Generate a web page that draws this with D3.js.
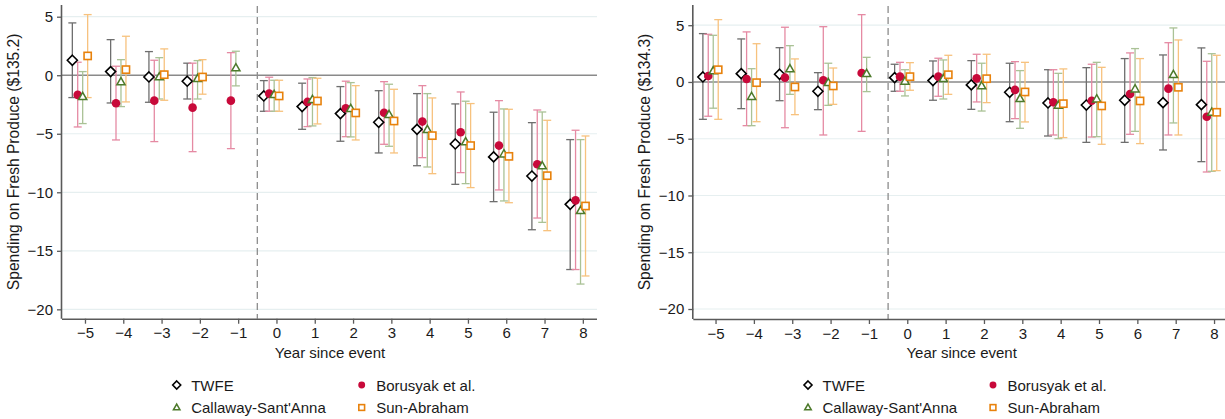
<!DOCTYPE html>
<html>
<head>
<meta charset="utf-8">
<script src="https://cdn.jsdelivr.net/npm/d3@7"></script>
<style>
  html, body { margin: 0; padding: 0; background: #fff; }
  svg text { font-family: "Liberation Sans", Arial, sans-serif; fill: #1a1a1a; }
</style>
</head>
<body>
<svg id="chart" width="1225" height="419"></svg>
<script>
// Event time (years relative to the event)
const events = [-5, -4, -3, -2, -1, 0, 1, 2, 3, 4, 5, 6, 7, 8];
const xTicks = [-5, -4, -3, -2, -1, 0, 1, 2, 3, 4, 5, 6, 7, 8];
const yTicks = [5, 0, -5, -10, -15, -20];

const seriesNames = ["TWFE", "Borusyak et al.", "Callaway-Sant'Anna", "Sun-Abraham"];

// Left panel: baseline mean $135.2
const twfeA_est = [1.28, 0.31, -0.15, -0.51, null, -1.77, -2.68, -3.28, -4.02, -4.62, -5.87, -6.98, -8.61, -11.03];
const twfeA_lo  = [-1.91, -2.37, -2.31, -2.03, null, -3.08, -4.62, -5.64, -6.64, -7.73, -9.32, -10.8, -13.2, -16.6];
const twfeA_hi  = [4.47, 3.04, 2.02, 1.03, null, -0.46, -0.68, -0.97, -1.32, -1.57, -2.45, -3.16, -4.05, -5.5];
const borA_est  = [-1.68, -2.40, -2.17, -2.77, -2.17, -1.57, -2.28, -2.82, -3.20, -3.96, -4.87, -6.01, -7.61, -10.69];
const borA_lo   = [-4.42, -5.53, -5.67, -6.53, -6.27, -3.08, -4.39, -5.25, -5.90, -7.04, -8.32, -9.80, -12.2, -16.6];
const borA_hi   = [1.11, 0.77, 1.28, 1.03, 1.93, -0.17, -0.32, -0.51, -0.55, -0.89, -1.43, -2.17, -2.97, -4.70];
const csA_est   = [-1.83, -0.57, -0.15, -0.29, 0.62, -1.66, -2.08, -2.85, -3.37, -4.65, -5.70, -6.73, -7.75, -11.57];
const csA_lo    = [-4.13, -2.68, -2.03, -2.03, -0.91, -3.08, -4.33, -5.27, -6.07, -7.84, -9.26, -10.74, -12.57, -17.84];
const csA_hi    = [0.31, 1.33, 1.50, 1.25, 2.05, -0.43, -0.20, -0.63, -0.77, -1.57, -2.22, -2.88, -3.14, -5.50];
const saA_est   = [1.65, 0.48, 0.05, -0.15, null, -1.77, -2.20, -3.22, -3.91, -5.16, -6.01, -6.93, -8.58, -11.17];
const saA_lo    = [-1.91, -2.28, -2.14, -1.62, null, -3.08, -4.16, -5.53, -6.64, -8.41, -9.60, -10.89, -13.28, -17.15];
const saA_hi    = [5.18, 3.33, 2.25, 1.33, null, -0.43, -0.26, -0.89, -1.20, -1.94, -2.42, -2.91, -3.85, -5.19];

// Right panel: baseline mean $134.3
const twfeB_est = [0.44, 0.73, 0.68, -0.82, null, 0.38, 0.12, -0.26, -0.91, -1.85, -2.03, -1.61, -1.82, -2.00];
const twfeB_lo  = [-3.29, -2.35, -1.65, -2.44, null, -0.82, -1.61, -2.41, -3.50, -4.76, -5.32, -5.32, -5.99, -7.02];
const twfeB_hi  = [4.26, 3.79, 3.02, 0.82, null, 1.56, 1.85, 1.88, 1.65, 1.08, 1.26, 2.06, 2.38, 3.00];
const borB_est  = [0.53, 0.26, 0.38, 0.15, 0.79, 0.47, 0.47, 0.32, -0.70, -1.79, -1.65, -1.06, -0.59, -3.06];
const borB_lo   = [-3.02, -3.85, -4.03, -4.67, -4.35, -0.82, -1.26, -1.76, -3.23, -4.67, -4.85, -4.61, -4.67, -7.93];
const borB_hi   = [4.20, 4.41, 4.82, 4.87, 5.93, 1.73, 2.09, 2.44, 1.79, 1.08, 1.56, 2.56, 3.46, 1.82];
const csB_est   = [0.97, -1.29, 1.15, -0.06, 0.73, 0.06, 0.29, -0.35, -1.47, -2.06, -1.50, -0.62, 0.64, -2.67];
const csB_lo    = [-2.31, -3.85, -1.09, -2.06, -0.85, -1.23, -1.50, -2.56, -4.08, -4.99, -4.82, -4.35, -3.61, -7.87];
const csB_hi    = [4.11, 1.17, 3.20, 1.65, 2.17, 1.08, 1.94, 1.65, 1.00, 0.76, 1.73, 2.94, 4.76, 2.49];
const saB_est   = [1.08, -0.06, -0.44, -0.35, null, 0.47, 0.64, 0.29, -0.88, -1.91, -2.11, -1.67, -0.47, -2.67];
const saB_lo    = [-3.29, -3.50, -2.88, -1.97, null, -0.73, -1.09, -1.82, -3.52, -4.90, -5.49, -5.43, -4.67, -7.81];
const saB_hi    = [5.49, 3.37, 2.03, 1.23, null, 1.70, 2.35, 2.44, 1.73, 1.15, 1.29, 2.06, 3.70, 2.35];

// Visual styling per estimator
const styles = [
  { marker: "diamond",  ci: "#6e6e6e", stroke: "#000000", fill: "#ffffff", offset: -0.33 },
  { marker: "circle",   ci: "#e58aa3", stroke: "#c8093a", fill: "#c8093a", offset: -0.19 },
  { marker: "triangle", ci: "#aac296", stroke: "#4d7a2b", fill: "#ffffff", offset: -0.06 },
  { marker: "square",   ci: "#f7c27e", stroke: "#e8820c", fill: "#ffffff", offset: 0.07 }
];

const panels = [
  {
    ylabel: "Spending on Fresh Produce ($135.2)",
    left: 62, right: 597, top: 5, bottom: 318.7, yDomain: [-20.8, 6.0], xDomain: [-5.6, 8.37],
    series: [
      { est: twfeA_est, lo: twfeA_lo, hi: twfeA_hi },
      { est: borA_est,  lo: borA_lo,  hi: borA_hi },
      { est: csA_est,   lo: csA_lo,   hi: csA_hi },
      { est: saA_est,   lo: saA_lo,   hi: saA_hi }
    ]
  },
  {
    ylabel: "Spending on Fresh Produce ($134.3)",
    left: 693.3, right: 1229, top: 5, bottom: 319, yDomain: [-20.88, 6.78], xDomain: [-5.58, 8.39],
    series: [
      { est: twfeB_est, lo: twfeB_lo, hi: twfeB_hi },
      { est: borB_est,  lo: borB_lo,  hi: borB_hi },
      { est: csB_est,   lo: csB_lo,   hi: csB_hi },
      { est: saB_est,   lo: saB_lo,   hi: saB_hi }
    ]
  }
];

const svg = d3.select("#chart");
svg.append("rect").attr("width", 1225).attr("height", 419).attr("fill", "#ffffff");

function drawMarker(g, kind, cx, cy, scale, st) {
  const s = scale;
  if (kind === "diamond") {
    g.append("path")
      .attr("d", `M${cx},${cy - 5 * s}L${cx + 5 * s},${cy}L${cx},${cy + 5 * s}L${cx - 5 * s},${cy}Z`)
      .attr("fill", st.fill).attr("stroke", st.stroke).attr("stroke-width", 1.6);
  } else if (kind === "circle") {
    g.append("circle").attr("cx", cx).attr("cy", cy).attr("r", 4.3 * s)
      .attr("fill", st.fill).attr("stroke", "none");
  } else if (kind === "triangle") {
    const h = 7.2 * s, w = 8.2 * s;
    g.append("path")
      .attr("d", `M${cx},${cy - h * 0.6}L${cx + w / 2},${cy + h * 0.4}L${cx - w / 2},${cy + h * 0.4}Z`)
      .attr("fill", st.fill).attr("stroke", st.stroke).attr("stroke-width", 1.5);
  } else if (kind === "square") {
    const a = 7.2 * s;
    g.append("rect").attr("x", cx - a / 2).attr("y", cy - a / 2).attr("width", a).attr("height", a)
      .attr("fill", st.fill).attr("stroke", st.stroke).attr("stroke-width", 1.6);
  }
}

panels.forEach(p => {
  const x = d3.scaleLinear().domain(p.xDomain).range([p.left, p.right]);
  const y = d3.scaleLinear().domain(p.yDomain).range([p.bottom, p.top]);
  const g = svg.append("g");

  // horizontal gridlines
  g.append("g").selectAll("line").data(yTicks.filter(t => t !== 0)).join("line")
    .attr("x1", p.left).attr("x2", p.right)
    .attr("y1", d => y(d)).attr("y2", d => y(d))
    .attr("stroke", "#e6eff0").attr("stroke-width", 1.2);

  // reference line at zero
  g.append("line").attr("x1", p.left).attr("x2", p.right)
    .attr("y1", y(0)).attr("y2", y(0))
    .attr("stroke", "#8a8a8a").attr("stroke-width", 1.5);

  // event onset marker
  g.append("line").attr("x1", x(-0.5)).attr("x2", x(-0.5))
    .attr("y1", p.top + 1).attr("y2", p.bottom)
    .attr("stroke", "#8c8c8c").attr("stroke-width", 1.3).attr("stroke-dasharray", "7,4");

  // confidence intervals
  p.series.forEach((s, si) => {
    const st = styles[si];
    const ciG = g.append("g").attr("stroke", st.ci).attr("stroke-width", 1.3).attr("fill", "none");
    events.forEach((e, i) => {
      if (s.lo[i] == null || s.hi[i] == null) return;
      const cx = x(e + st.offset);
      const y1 = y(s.hi[i]), y2 = y(s.lo[i]);
      ciG.append("line").attr("x1", cx).attr("x2", cx).attr("y1", y1).attr("y2", y2);
      ciG.append("line").attr("x1", cx - 4).attr("x2", cx + 4).attr("y1", y1).attr("y2", y1);
      ciG.append("line").attr("x1", cx - 4).attr("x2", cx + 4).attr("y1", y2).attr("y2", y2);
    });
  });

  // point estimates
  p.series.forEach((s, si) => {
    const st = styles[si];
    const mg = g.append("g");
    events.forEach((e, i) => {
      if (s.est[i] == null) return;
      drawMarker(mg, st.marker, x(e + st.offset), y(s.est[i]), 1, st);
    });
  });

  // axes
  const yAxis = d3.axisLeft(y).tickValues(yTicks).tickSize(5).tickPadding(4).tickFormat(d3.format("d"));
  const ya = g.append("g").attr("transform", `translate(${p.left},0)`).call(yAxis);
  const xAxis = d3.axisBottom(x).tickValues(xTicks).tickSize(5).tickPadding(4).tickFormat(d3.format("d"));
  const xa = g.append("g").attr("transform", `translate(0,${p.bottom})`).call(xAxis);
  [ya, xa].forEach(a => {
    a.select(".domain").attr("stroke", "#5a5a5a").attr("stroke-width", 1.6);
    a.selectAll(".tick line").attr("stroke", "#5a5a5a").attr("stroke-width", 1.3);
    a.selectAll(".tick text").attr("font-size", 15).attr("fill", "#1a1a1a")
      .attr("font-family", "Liberation Sans, Arial, sans-serif");
  });
  ya.select(".domain").attr("d", `M-0.5,${p.top}V${p.bottom}`);
  xa.select(".domain").attr("d", `M${p.left},0.5H${p.right}`);

  // axis titles
  g.append("text")
    .attr("transform", `translate(${p.left - 47},${(p.top + p.bottom) / 2}) rotate(-90)`)
    .attr("text-anchor", "middle").attr("dominant-baseline", "middle")
    .attr("font-size", 15.6).text(p.ylabel);
  g.append("text")
    .attr("x", (p.left + p.right) / 2 + 0.5)
    .attr("y", 358).attr("text-anchor", "middle").attr("font-size", 15)
    .text("Year since event");

  // legend
  const lg = g.append("g");
  const col = [p.left + 114.7, p.left + 299.7];
  const row = [385, 407.5];
  seriesNames.forEach((name, si) => {
    const cx = col[si % 2], cy = row[Math.floor(si / 2)];
    drawMarker(lg, styles[si].marker, cx, cy, 0.8, styles[si]);
    lg.append("text").attr("x", cx + 14.5).attr("y", cy + 5.5).attr("font-size", 15).text(name);
  });
});
</script>
</body>
</html>
